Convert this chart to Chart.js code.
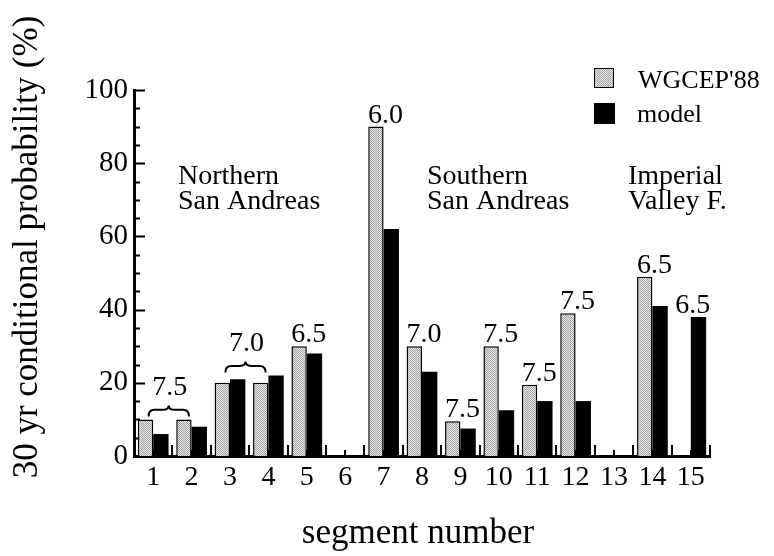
<!DOCTYPE html>
<html>
<head>
<meta charset="utf-8">
<script src="https://cdn.jsdelivr.net/npm/chart.js@4.4.0/dist/chart.umd.min.js"></script>
<style>
  html, body { margin: 0; padding: 0; background: #fff; }
</style>
</head>
<body>
<canvas id="chart" width="774" height="556"></canvas>
<script>
    // segment data (30 yr conditional probability, %)
    const segments = ['1', '2', '3', '4', '5', '6', '7', '8', '9', '10', '11', '12', '13', '14', '15'];
    const wgcep88 = [10, 10, 20, 20, 30, null, 90, 30, 9.5, 30, 19.5, 39, null, 49, null];
    const model = [6, 8, 21, 22, 28, null, 62, 23, 7.5, 12.5, 15, 15, null, 41, 38];
    const magnitudes = ['', '', '', '', '6.5', '', '6.0', '7.0', '7.5', '7.5', '7.5', '7.5', '', '6.5', '6.5'];
    const bracedGroups = [[0, 1], [2, 3]];
    const bracedMagnitudes = ['7.5', '7.0'];
    const regionLabels = [['Northern', 'San Andreas'], ['Southern', 'San Andreas'], ['Imperial', 'Valley F.']];

    const serif = '"Liberation Serif", "DejaVu Serif", serif';

    function stipple() {
      const c = document.createElement('canvas');
      c.width = 2; c.height = 2;
      const g = c.getContext('2d');
      g.fillStyle = '#e6e6e6';
      g.fillRect(0, 0, 2, 2);
      g.fillStyle = '#a4a4a4';
      g.fillRect(0, 0, 1, 1);
      g.fillRect(1, 1, 1, 1);
      return g.createPattern(c, 'repeat');
    }
    const grey = stipple();

    // axis ticks pointing inward, drawn under the bars
    const axisTicks = {
      id: 'axisTicks',
      beforeDatasetsDraw(chart) {
        const { ctx, scales: { x, y }, chartArea } = chart;
        ctx.save();
        ctx.strokeStyle = '#000';
        ctx.lineWidth = 2;
        ctx.beginPath();
        for (let v = 0; v <= 100; v += 5) {
          const py = Math.round(y.getPixelForValue(v)) + 0.5;
          const len = v % 20 === 0 ? 11 : 6;
          ctx.moveTo(chartArea.left, py);
          ctx.lineTo(chartArea.left + len, py);
        }
        for (let i = 0; i <= segments.length; i++) {
          const px = Math.round(x.getPixelForValue(i - 0.5));
          ctx.moveTo(px, chartArea.bottom);
          ctx.lineTo(px, chartArea.bottom - 11);
        }
        for (let i = 0; i < segments.length; i++) {
          const px = Math.round(x.getPixelForValue(i));
          ctx.moveTo(px, chartArea.bottom);
          ctx.lineTo(px, chartArea.bottom - 6);
        }
        ctx.stroke();
        ctx.restore();
      }
    };

    function brace(ctx, x1, x2, base, h) {
      const xm = (x1 + x2) / 2;
      const my = base - h * 0.6;
      const r = 6;
      ctx.beginPath();
      ctx.moveTo(x1, base);
      ctx.quadraticCurveTo(x1, my, x1 + r, my);
      ctx.lineTo(xm - r, my);
      ctx.quadraticCurveTo(xm, my, xm, base - h);
      ctx.quadraticCurveTo(xm, my, xm + r, my);
      ctx.lineTo(x2 - r, my);
      ctx.quadraticCurveTo(x2, my, x2, base);
      ctx.stroke();
    }

    const annotations = {
      id: 'annotations',
      afterDraw(chart) {
        const { ctx, scales: { x, y } } = chart;
        const greyBars = chart.getDatasetMeta(0).data;
        ctx.save();
        ctx.fillStyle = '#000';
        ctx.strokeStyle = '#000';

        // magnitudes over the bars
        ctx.font = '28px ' + serif;
        ctx.textAlign = 'center';
        ctx.textBaseline = 'alphabetic';
        magnitudes.forEach((m, i) => {
          if (!m) return;
          const top = Math.max(wgcep88[i] || 0, model[i] || 0);
          ctx.fillText(m, x.getPixelForValue(i) + 2, y.getPixelForValue(top) - 4);
        });

        // braces over grouped segments
        ctx.lineWidth = 2;
        bracedGroups.forEach((grp, k) => {
          const top = Math.max(...grp.map(i => Math.max(wgcep88[i] || 0, model[i] || 0)));
          const base = y.getPixelForValue(top) - 3;
          const x1 = greyBars[grp[0]].x + 3;
          const x2 = greyBars[grp[1]].x + 5;
          brace(ctx, x1, x2, base, 11);
          ctx.fillText(bracedMagnitudes[k], (x1 + x2) / 2 + 1, base - 21);
        });

        // region names
        ctx.textAlign = 'left';
        const regionX = [178, 427, 628];
        regionLabels.forEach((lines, k) => {
          ctx.fillText(lines[0], regionX[k], 184);
          ctx.fillText(lines[1], regionX[k], 209);
        });

        // legend
        ctx.font = '26px ' + serif;
        ctx.fillStyle = grey;
        ctx.fillRect(594, 68, 20, 20);
        ctx.lineWidth = 1;
        ctx.strokeRect(594.5, 68.5, 19, 19);
        ctx.fillStyle = '#000';
        ctx.fillRect(594, 103, 21, 21);
        ctx.fillText("WGCEP'88", 638, 88);
        ctx.fillText('model', 637, 122);

        // axis titles
        ctx.font = '35px ' + serif;
        ctx.textAlign = 'center';
        ctx.fillText('segment number', 418, 543);
        ctx.translate(37, 247);
        ctx.rotate(-Math.PI / 2);
        ctx.fillText('30 yr conditional probability (%)', 0, 0);
        ctx.restore();
      }
    };

    const ctx = document.getElementById('chart').getContext('2d');
    const chart = new Chart(ctx, {
      type: 'bar',
      data: {
        labels: segments,
        datasets: [
          {
            label: "WGCEP'88",
            data: wgcep88,
            backgroundColor: grey,
            borderColor: '#000',
            borderWidth: 1.5,
            categoryPercentage: 0.8,
            barPercentage: 1
          },
          {
            label: 'model',
            data: model,
            backgroundColor: '#000',
            borderWidth: 0,
            categoryPercentage: 0.8,
            barPercentage: 1
          }
        ]
      },
      options: {
        responsive: false,
        animation: false,
        devicePixelRatio: 1,
        layout: { padding: { top: 90, right: 64, left: 0, bottom: 0 } },
        plugins: {
          legend: { display: false },
          tooltip: { enabled: false }
        },
        scales: {
          x: {
            grid: { display: false, drawTicks: false },
            border: { display: true, color: '#000', width: 3 },
            ticks: { color: '#000', font: { family: serif, size: 28 }, padding: 5, maxRotation: 0, autoSkip: false },
            afterFit: s => { s.height = 100; }
          },
          y: {
            min: 0,
            max: 100,
            grid: { display: false, drawTicks: false },
            border: { display: true, color: '#000', width: 3 },
            ticks: { stepSize: 20, color: '#000', font: { family: serif, size: 29 }, padding: 6 },
            afterFit: s => { s.width = 134; }
          }
        }
      },
      plugins: [axisTicks, annotations]
    });
</script>
</body>
</html>
